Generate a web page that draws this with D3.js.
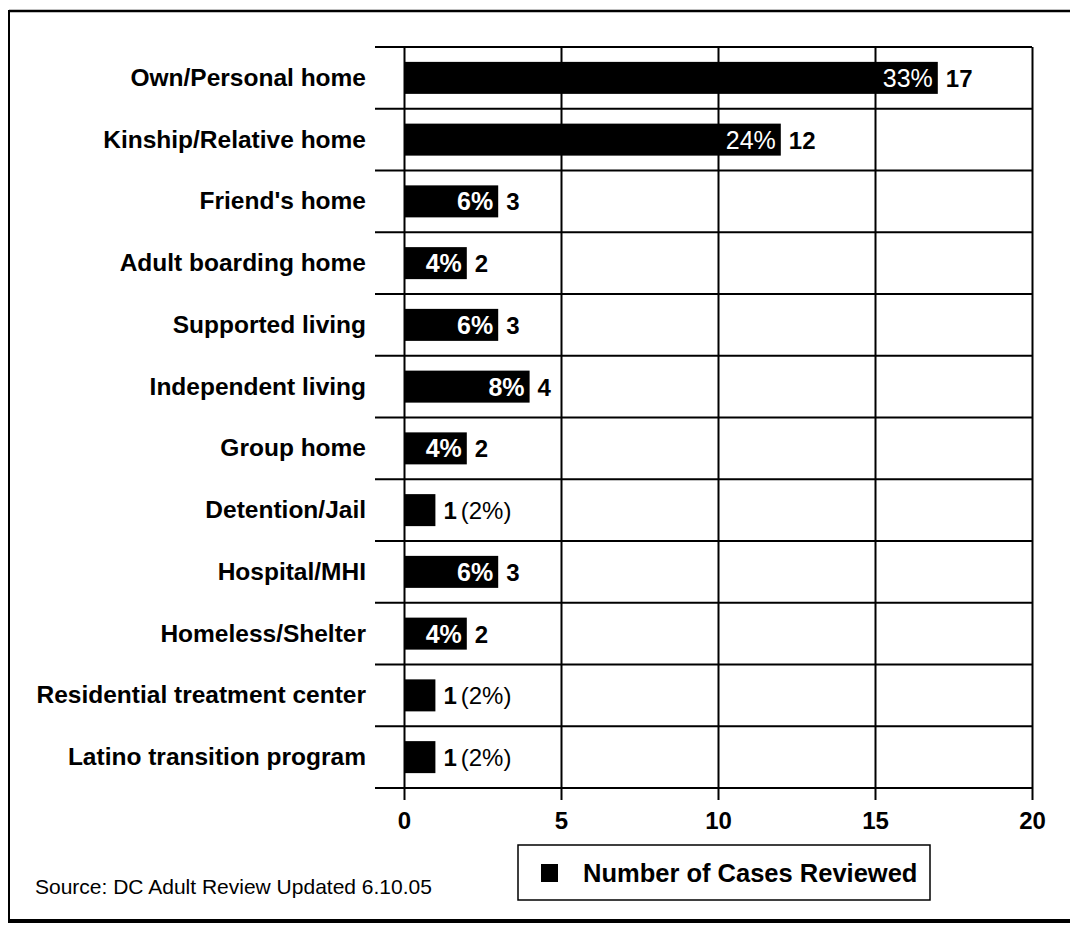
<!DOCTYPE html>
<html>
<head>
<meta charset="utf-8">
<script src="https://cdn.jsdelivr.net/npm/d3@7"></script>
<style>
  html, body { margin: 0; padding: 0; background: #fff; }
  svg { display: block; }
  text { font-family: "Liberation Sans", Arial, Helvetica, sans-serif; fill: #000; }
</style>
</head>
<body>
<svg id="chart" width="1070" height="928"></svg>
<script>
// Living situation of reviewed cases
const categories = [
  "Own/Personal home",
  "Kinship/Relative home",
  "Friend's home",
  "Adult boarding home",
  "Supported living",
  "Independent living",
  "Group home",
  "Detention/Jail",
  "Hospital/MHI",
  "Homeless/Shelter",
  "Residential treatment center",
  "Latino transition program"
];
const counts   = [17, 12, 3, 2, 3, 4, 2, 1, 3, 2, 1, 1];
const percents = [33, 24, 6, 4, 6, 8, 4, 2, 6, 4, 2, 2];
const xTicks = [0, 5, 10, 15, 20];
const seriesName = "Number of Cases Reviewed";
const sourceNote = "Source: DC Adult Review Updated 6.10.05";

const rows = categories.map((c, i) => ({ cat: c, count: counts[i], pct: percents[i] }));

const svg = d3.select("#chart");

// outer frame
const frame = svg.append("g").attr("stroke", "#000").attr("fill", "none");
frame.append("line").attr("x1", 9).attr("x2", 1070).attr("y1", 11).attr("y2", 11).attr("stroke-width", 2.5);
frame.append("line").attr("x1", 9).attr("x2", 9).attr("y1", 10).attr("y2", 923).attr("stroke-width", 2);
frame.append("line").attr("x1", 8).attr("x2", 1070).attr("y1", 921).attr("y2", 921).attr("stroke-width", 4);

const plotLeft = 404, plotRight = 1032, plotTop = 47, plotBottom = 788;

const x = d3.scaleLinear().domain([0, 20]).range([plotLeft, plotRight]);
const y = d3.scaleBand().domain(categories).range([plotTop, plotBottom]).padding(0);
const barH = 32;

// row separators (extend left of the value axis as tick marks)
const rowEdges = categories.map(c => y(c)).concat([plotBottom]);
svg.append("g").selectAll("line").data(rowEdges).join("line")
  .attr("x1", plotLeft - 29).attr("x2", plotRight)
  .attr("y1", d => d).attr("y2", d => d)
  .attr("stroke", "#000").attr("stroke-width", 2);

// vertical grid lines and value axis, ticks hanging below the bottom edge
const ax = svg.append("g").attr("transform", `translate(0,${plotBottom + 12})`);
ax.call(d3.axisBottom(x).tickValues(xTicks).tickSize(-(plotBottom - plotTop + 12)).tickFormat(d3.format("d")));
ax.select(".domain").remove();
ax.selectAll(".tick line").attr("stroke", "#000").attr("stroke-width", 2);
ax.selectAll(".tick text")
  .attr("y", 29)
  .attr("dy", 0)
  .style("font-size", "24px")
  .style("font-weight", "bold")
  .style("font-family", "'Liberation Sans', Arial, sans-serif")
  .attr("fill", "#000");

// bars
svg.append("g").selectAll("rect").data(rows).join("rect")
  .attr("x", x(0))
  .attr("y", d => y(d.cat) + (y.bandwidth() - barH) / 2)
  .attr("width", d => x(d.count) - x(0))
  .attr("height", barH)
  .attr("fill", "#000");

// category labels
svg.append("g").selectAll("text").data(rows).join("text")
  .attr("x", 366)
  .attr("y", d => y(d.cat) + y.bandwidth() / 2 + 8)
  .attr("text-anchor", "end")
  .style("font-size", "24.5px")
  .style("font-weight", "bold")
  .text(d => d.cat);

// percentage inside the bar (for bars wide enough)
const inside = rows.filter(d => d.count >= 2);
svg.append("g").selectAll("text").data(inside).join("text")
  .attr("x", d => x(d.count) - 5)
  .attr("y", d => y(d.cat) + y.bandwidth() / 2 + 9)
  .attr("text-anchor", "end")
  .style("font-size", "25px")
  .style("font-weight", d => d.count >= 10 ? "normal" : "bold")
  .style("fill", "#fff")
  .text(d => d.pct + "%");

// count labels beside each bar
const vl = svg.append("g").selectAll("text").data(rows).join("text")
  .attr("x", d => x(d.count) + 8)
  .attr("y", d => y(d.cat) + y.bandwidth() / 2 + 9)
  .style("font-size", "24px");
vl.append("tspan").style("font-weight", "bold").text(d => d.count);
vl.filter(d => d.count < 2).append("tspan").attr("dx", 4).style("font-weight", "normal")
  .text(d => "(" + d.pct + "%)");

// source note
svg.append("text")
  .attr("x", 35).attr("y", 894)
  .style("font-size", "21px")
  .text(sourceNote);

// legend
const lg = svg.append("g");
lg.append("rect").attr("x", 518).attr("y", 845).attr("width", 412).attr("height", 55)
  .attr("fill", "#fff").attr("stroke", "#000").attr("stroke-width", 1.5);
lg.append("rect").attr("x", 541).attr("y", 864).attr("width", 17).attr("height", 18).attr("fill", "#000");
lg.append("text").attr("x", 583).attr("y", 882)
  .style("font-size", "25.5px").style("font-weight", "bold")
  .text(seriesName);
</script>
</body>
</html>
